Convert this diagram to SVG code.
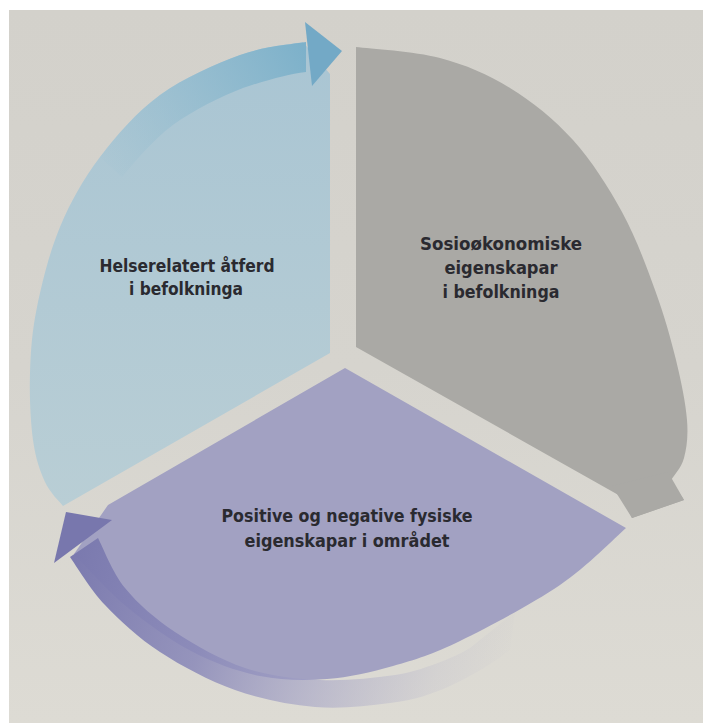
<svg xmlns="http://www.w3.org/2000/svg" width="703" height="725" viewBox="0 0 703 725">
  <style>
    .label { font-family: "DejaVu Sans Condensed", "Liberation Sans Narrow", "Liberation Sans", sans-serif; font-weight: 700; font-size: 17.5px; fill: #2a2a30; text-anchor: middle; }
  </style>
  <defs>
    <linearGradient id="paper" x1="0" y1="0" x2="0" y2="1">
      <stop offset="0" stop-color="#d3d1cb"/>
      <stop offset="0.5" stop-color="#d6d4ce"/>
      <stop offset="1" stop-color="#dddbd4"/>
    </linearGradient>
    <linearGradient id="blueFill" gradientUnits="userSpaceOnUse" x1="0" y1="40" x2="0" y2="510">
      <stop offset="0" stop-color="#a9c5d3"/>
      <stop offset="1" stop-color="#b9ced5"/>
    </linearGradient>
    <linearGradient id="blueShaft" gradientUnits="userSpaceOnUse" x1="95" y1="170" x2="306" y2="50">
      <stop offset="0" stop-color="#8fbbcf" stop-opacity="0"/>
      <stop offset="1" stop-color="#7db1ca" stop-opacity="1"/>
    </linearGradient>
    <linearGradient id="purpleShaft" gradientUnits="userSpaceOnUse" x1="60" y1="540" x2="510" y2="680">
      <stop offset="0" stop-color="#7877ad" stop-opacity="1"/>
      <stop offset="0.35" stop-color="#8988b8" stop-opacity="0.85"/>
      <stop offset="0.6" stop-color="#9d9cc4" stop-opacity="0.55"/>
      <stop offset="0.85" stop-color="#a7a6c8" stop-opacity="0.15"/>
      <stop offset="1" stop-color="#a9a8c8" stop-opacity="0"/>
    </linearGradient>
  </defs>

  <!-- page -->
  <rect x="0" y="0" width="703" height="725" fill="#ffffff"/>
  <rect x="9" y="10" width="694" height="713" fill="url(#paper)"/>

  <!-- sectors -->
  <g id="node-helserelatert">
    <path d="M330,353 L330,74 L303,42 C292.5,44.2 263.8,46.2 240,55 C216.2,63.8 183.3,78 160,95 C136.7,112 116.7,135 100,157 C83.3,179 70.5,202 60,227 C49.5,252 42,282.7 37,307 C32,331.3 30.7,350.8 30,373 C29.3,395.2 30.5,421.8 33,440 C35.5,458.2 40,471 45,482 C50,493 60,502 63,506 Z" fill="url(#blueFill)"/>
    <text class="label" x="187" y="272" textLength="175" lengthAdjust="spacingAndGlyphs">Helserelatert åtferd</text>
    <text class="label" x="186" y="295" textLength="114" lengthAdjust="spacingAndGlyphs">i befolkninga</text>
  </g>

  <g id="node-sosiookonomiske">
    <path d="M356,347 L356,47 C370,48.8 414.3,51.2 440,58 C465.7,64.8 487.8,74.3 510,88 C532.2,101.7 554.3,119.3 573,140 C591.7,160.7 608.3,187 622,212 C635.7,237 646,265.3 655,290 C664,314.7 670.7,338.3 676,360 C681.3,381.7 685.7,403.7 687,420 C688.3,436.3 686.7,448 684,458 C681.3,468 673.2,476.3 671,480 L684,500 L632,518 L622,497 Z" fill="#aaa9a5"/>
    <text class="label" x="501" y="250" textLength="162" lengthAdjust="spacingAndGlyphs">Sosioøkonomiske</text>
    <text class="label" x="501" y="274" textLength="113" lengthAdjust="spacingAndGlyphs">eigenskapar</text>
    <text class="label" x="501" y="298" textLength="117" lengthAdjust="spacingAndGlyphs">i befolkninga</text>
  </g>

  <g id="node-fysiske">
    <path d="M345,368 L626,528 C615,537.5 587.7,566.2 560,585 C532.3,603.8 487.8,627.5 460,641 C432.2,654.5 415.2,659.7 393,666 C370.8,672.3 349.2,677.3 327,679 C304.8,680.7 282.3,680.5 260,676 C237.7,671.5 215.2,663.5 193,652 C170.8,640.5 146.8,623.3 127,607 C107.2,590.7 82.8,562.8 74,554 L108,505 Z" fill="#a2a1c2"/>
  </g>

  <!-- cycle arrows -->
  <g id="connectors">
    <g id="arrow-helse-to-sosio">
      <path d="M306,42 C292.5,44.2 263.8,46.2 240,55 C216.2,63.8 183.3,78 160,95 C136.7,112 116.7,135 100,157 L122,177 C140,155 160,133 180,120 C205,104 230,92 252,85 C275,78 290,74 306,72 Z" fill="url(#blueShaft)"/>
      <polygon points="305,22 342,51 312,86" fill="#73a9c6"/>
    </g>
    <g id="arrow-sosio-to-fysiske">
      <polygon points="668,472 684,500 632,518 612,486" fill="#aaa9a5"/>
    </g>
    <g id="arrow-fysiske-to-helse">
      <path d="M70,557 C75.8,565 90,589.2 105,605 C120,620.8 138.3,637.8 160,652 C181.7,666.2 209.2,680.8 235,690 C260.8,699.2 288.3,704.8 315,707 C341.7,709.2 365,706 390,703 C415,700 432,694 450,686 C470,677 495,662 510,650 L515,612 L470,648 C457.5,656 420,671.7 395,675 C370,678.3 345,681.2 320,680 C295,678.8 269.2,676 245,668 C220.8,660 195,645.3 175,632 C155,618.7 137.8,603.7 125,588 C112.2,572.3 102.5,546.3 98,538 Z" fill="url(#purpleShaft)"/>
      <polygon points="66,512 112,520 54,563" fill="#7877ad"/>
    </g>
  </g>

  <text class="label" x="347" y="522" textLength="251" lengthAdjust="spacingAndGlyphs">Positive og negative fysiske</text>
  <text class="label" x="347" y="547" textLength="205" lengthAdjust="spacingAndGlyphs">eigenskapar i området</text>
</svg>
